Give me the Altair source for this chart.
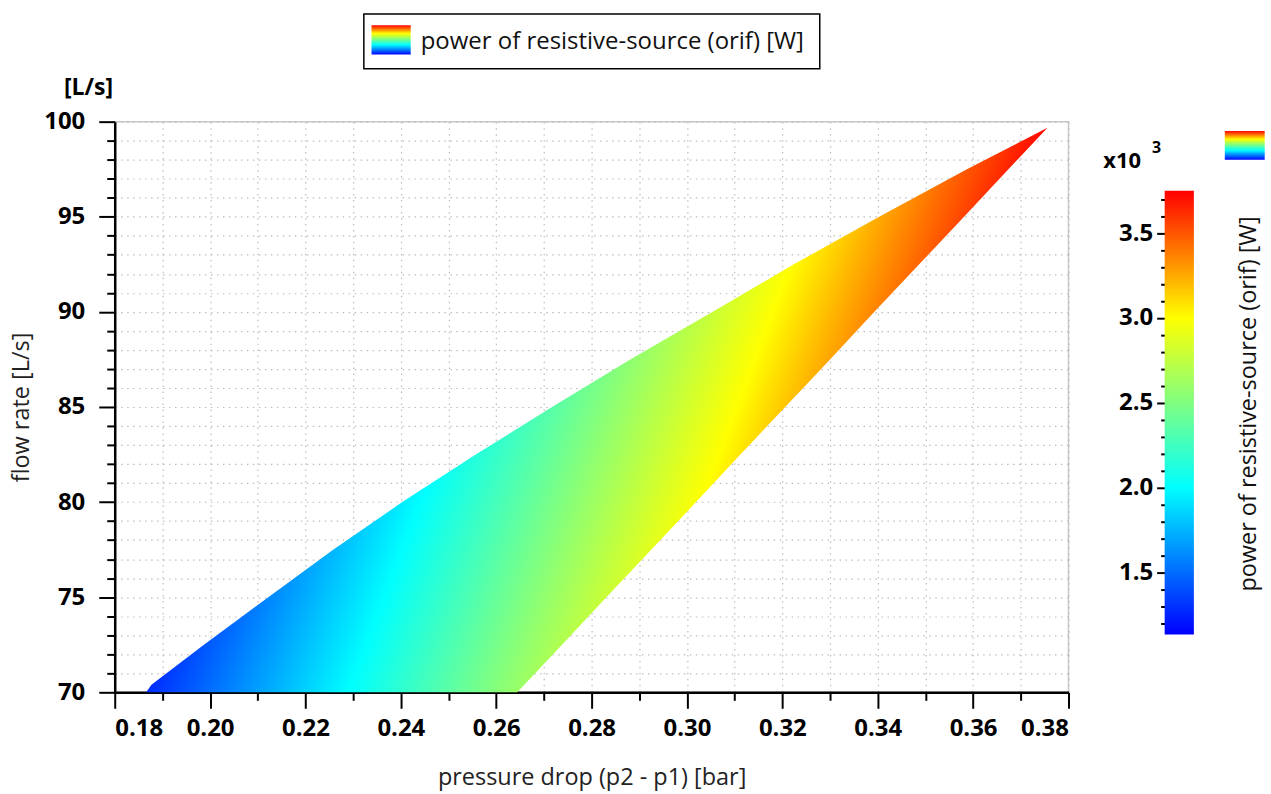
import altair as alt
import pandas as pd

# ---- data ----
# flow-rate levels [L/s] at which both edges of the operating region were read
flow = [70.0, 70.4, 72.5, 75.0, 77.5, 80.0, 82.5, 85.0, 87.5, 90.0, 92.5, 95.0, 97.5, 99.68]
# left (upper) edge, pressure drop [bar]
dp_left = [0.1866, 0.1877, 0.1987, 0.2122, 0.2258, 0.2403, 0.2557, 0.2717, 0.2881,
           0.3054, 0.3224, 0.3403, 0.3587, 0.3756]
# right (lower) edge, pressure drop [bar]
dp_right = [0.2644, 0.2659, 0.2738, 0.2831, 0.2925, 0.3019, 0.3112, 0.3206, 0.3300,
            0.3393, 0.3487, 0.3581, 0.3674, 0.3756]

# power of the region's extreme corners (x10^3 W)
region_power_lo = 1.28
region_power_hi = 3.73

# colour bar
cbar_min = 1.133
cbar_max = 3.75
cbar_stop_values = [1.133, 2.0, 2.5, 3.0, 3.75]
cbar_stop_colors = ["#0000ff", "#00ffff", "#80ff80", "#ffff00", "#ff0000"]

x_ticks = [0.18, 0.19, 0.20, 0.21, 0.22, 0.23, 0.24, 0.25, 0.26, 0.27, 0.28,
           0.29, 0.30, 0.31, 0.32, 0.33, 0.34, 0.35, 0.36, 0.37, 0.38]
y_ticks = [70, 71, 72, 73, 74, 75, 76, 77, 78, 79, 80, 81, 82, 83, 84, 85, 86, 87,
           88, 89, 90, 91, 92, 93, 94, 95, 96, 97, 98, 99, 100]
cbar_ticks = [1.2, 1.3, 1.4, 1.5, 1.6, 1.7, 1.8, 1.9, 2.0, 2.1, 2.2, 2.3, 2.4, 2.5,
              2.6, 2.7, 2.8, 2.9, 3.0, 3.1, 3.2, 3.3, 3.4, 3.5, 3.6, 3.7]

legend_label = "power of resistive-source (orif) [W]"
FONT = "Open Sans"

# ---- helpers for colours ----
def hex_to_rgb(h):
    h = h.lstrip("#")
    return tuple(int(h[i:i + 2], 16) for i in (0, 2, 4))


def color_at(v):
    vals, cols = cbar_stop_values, cbar_stop_colors
    if v <= vals[0]:
        return cols[0]
    for i in range(1, len(vals)):
        if v <= vals[i]:
            f = (v - vals[i - 1]) / (vals[i] - vals[i - 1])
            a, b = hex_to_rgb(cols[i - 1]), hex_to_rgb(cols[i])
            return "#%02x%02x%02x" % tuple(round(a[k] + f * (b[k] - a[k])) for k in range(3))
    return cols[-1]


# gradient for the colour bar / legend swatches (bottom -> top)
cbar_stops = [alt.GradientStop(offset=(v - cbar_min) / (cbar_max - cbar_min), color=c)
              for v, c in zip(cbar_stop_values, cbar_stop_colors)]

# gradient across the operating region
region_vals = [region_power_lo] + [v for v in cbar_stop_values if region_power_lo < v < region_power_hi] + [region_power_hi]
region_stops = [alt.GradientStop(offset=(v - region_power_lo) / (region_power_hi - region_power_lo), color=color_at(v))
                for v in region_vals]

region_df = pd.DataFrame({"flow": flow, "dp_left": dp_left, "dp_right": dp_right})
one = pd.DataFrame({"k": [0]})

W, H = 956, 572
CB_W = 29.3
SPACING = 96.4

x_axis = alt.Axis(
    values=x_ticks,
    labelExpr="round(datum.value*100) % 2 == 0 ? format(datum.value, '.2f') : ''",
    tickSize={"condition": {"test": "round(datum.value*100) % 2 == 0", "value": 16}, "value": 8},
    labelPadding=8,
    title="pressure drop (p2 - p1) [bar]",
    titlePadding=25,
)
y_axis = alt.Axis(
    values=y_ticks,
    labelExpr="round(datum.value) % 5 == 0 ? format(datum.value, 'd') : ''",
    tickSize={"condition": {"test": "round(datum.value) % 5 == 0", "value": 16}, "value": 8},
    labelPadding=14,
    title="flow rate [L/s]",
    titlePadding=10,
)

anchor = alt.Chart(one).mark_rect(opacity=0).encode(
    x=alt.value(-113.3), x2=alt.value(1271 - 113.3), y=alt.value(-120), y2=alt.value(794 - 120)
)

region = alt.Chart(region_df).mark_area(
    orient="horizontal",
    color=alt.Gradient(gradient="linear", stops=region_stops, x1=0, y1=1, x2=0.7236, y2=1.1708),
).encode(
    y=alt.Y("flow:Q", scale=alt.Scale(domain=[70, 100], nice=False, zero=False), axis=y_axis),
    x=alt.X("dp_left:Q", scale=alt.Scale(domain=[0.18, 0.38], nice=False, zero=False), axis=x_axis),
    x2="dp_right:Q",
)

legend_box = alt.Chart(one).mark_rect(fill="white", stroke="black", strokeWidth=1.5).encode(
    x=alt.value(249.7), x2=alt.value(706.7), y=alt.value(-108), y2=alt.value(-53)
)
legend_swatch = alt.Chart(one).mark_rect(
    color=alt.Gradient(gradient="linear", stops=cbar_stops, x1=0, y1=1, x2=0, y2=0)
).encode(x=alt.value(257.4), x2=alt.value(296.7), y=alt.value(-96.7), y2=alt.value(-67.3))
legend_text = alt.Chart(one).mark_text(
    text=legend_label, font=FONT, fontSize=24, align="left", baseline="alphabetic", color="#111"
).encode(x=alt.value(306.7), y=alt.value(-73))
unit_text = alt.Chart(one).mark_text(
    text="[L/s]", font=FONT, fontSize=23, fontWeight="bold", align="center", baseline="alphabetic", color="black"
).encode(x=alt.value(-26.3), y=alt.value(-27))

main = alt.layer(anchor, region, legend_box, legend_swatch, legend_text, unit_text).properties(width=W, height=H)

cbar_df = pd.DataFrame({"lo": [cbar_min], "hi": [cbar_max]})
px_per_unit = 444.7 / (cbar_max - cbar_min)
cb_dom_top = cbar_max + 69.3 / px_per_unit
cb_dom_bot = cbar_min - (H - 514.0) / px_per_unit

cbar_rect = alt.Chart(cbar_df).mark_rect(
    color=alt.Gradient(gradient="linear", stops=cbar_stops, x1=0, y1=1, x2=0, y2=0)
).encode(
    y=alt.Y("lo:Q", scale=alt.Scale(domain=[cb_dom_bot, cb_dom_top], nice=False, zero=False),
            axis=alt.Axis(
                values=cbar_ticks, orient="left", domain=False, grid=False, title="",
                labelExpr="round(datum.value*10) % 5 == 0 ? format(datum.value, '.1f') : ''",
                tickSize={"condition": {"test": "round(datum.value*10) % 5 == 0", "value": 8}, "value": 4},
                labelPadding=4,
            )),
    y2="hi:Q",
    x=alt.value(0), x2=alt.value(CB_W),
)
x10_text = alt.Chart(one).mark_text(
    text="x10", font=FONT, fontSize=22, fontWeight="bold", align="left", baseline="alphabetic", color="black"
).encode(x=alt.value(-61.5), y=alt.value(46))
exp_text = alt.Chart(one).mark_text(
    text="3", font=FONT, fontSize=16, fontWeight="bold", align="left", baseline="alphabetic", color="black"
).encode(x=alt.value(-12.7), y=alt.value(31))
cb_swatch = alt.Chart(one).mark_rect(
    color=alt.Gradient(gradient="linear", stops=cbar_stops, x1=0, y1=1, x2=0, y2=0)
).encode(x=alt.value(60.3), x2=alt.value(100.3), y=alt.value(9.3), y2=alt.value(38.3))
cb_title = alt.Chart(one).mark_text(
    text=legend_label, font=FONT, fontSize=23.5, angle=270, align="center", baseline="middle", color="#111"
).encode(x=alt.value(84.3), y=alt.value(283))

colorbar = alt.layer(cbar_rect, x10_text, exp_text, cb_swatch, cb_title).properties(
    width=CB_W, height=H, view=alt.ViewBackground(stroke="transparent")
)

chart = alt.hconcat(main, colorbar, spacing=SPACING, bounds="flush").properties(
    padding=0, background="white"
).configure_view(
    stroke="#c8c8c8", strokeWidth=1.5
).configure_axis(
    labelFont=FONT, labelFontSize=24, labelFontWeight="bold", labelColor="black",
    titleFont=FONT, titleFontSize=23.5, titleFontWeight="normal", titleColor="#222",
    domainColor="black", domainWidth=2.5, tickColor="black", tickWidth=2,
    gridColor="#bcbcbc", gridDash=[1.5, 4.5], gridWidth=1.2,
)

chart.save("out.html", embed_options={"renderer": "svg", "actions": False})
